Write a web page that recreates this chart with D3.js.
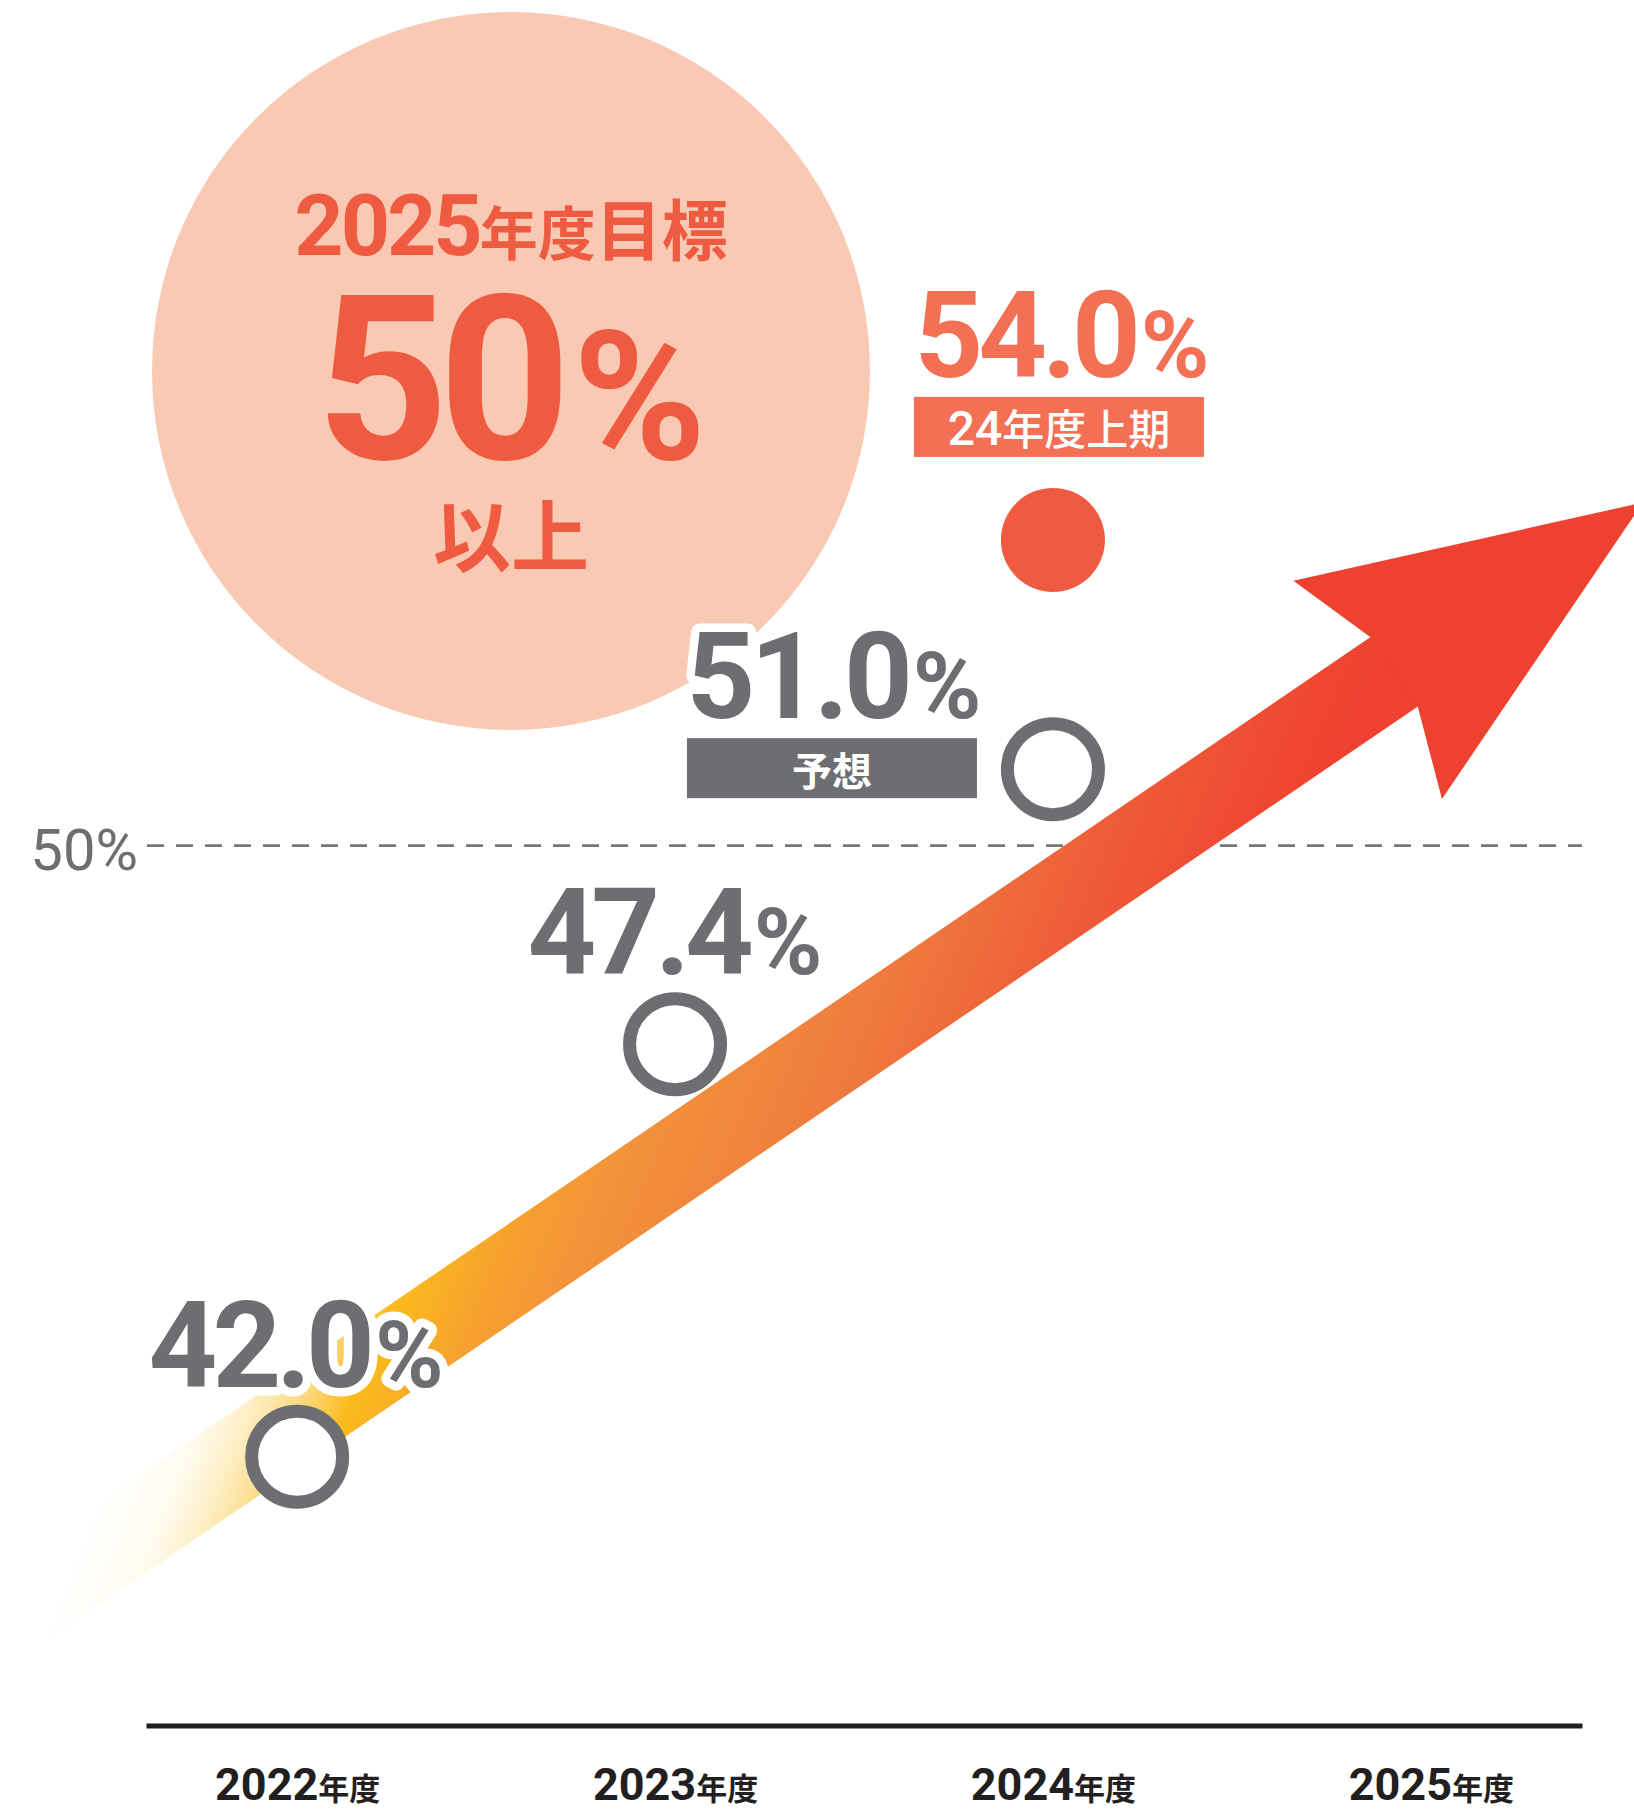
<!DOCTYPE html>
<html>
<head>
<meta charset="utf-8">
<script src="https://cdn.jsdelivr.net/npm/d3@7"></script>
<style>
  html, body { margin: 0; padding: 0; background: #fff; }
  svg { display: block; }
</style>
</head>
<body>
<svg id="chart" width="1634" height="1809"></svg>
<script>
// ---- data ----
const years = ["2022", "2023", "2024", "2025"];
const yearSuffix = "年度";

const pointYears  = ["2022", "2023", "2024", "2024"];
const pointValues = [42.0, 47.4, 51.0, 54.0];
const pointKinds  = ["actual", "actual", "forecast", "interim"];
const pointTags   = ["", "", "予想", "24年度上期"];

const targetValue = 50;
const targetTitle = ["2025", "年度", "目標"];
const targetNote  = "以上";

// trend arrow runs through these two (year, value) anchors
const trendStart = ["2022", 42.5];
const trendEnd   = ["2025", 52.6];

// ---- styling / layout ----
const NUM = "Roboto, 'Noto Sans', sans-serif";
const JP  = "'Noto Sans CJK JP', 'Noto Sans CJK SC', sans-serif";
const CORAL = "#EF5B41", SALMON = "#F37055", DOT = "#F05A40";
const GRAY = "#6D6E71", INK = "#231F20", PEACH = "#F9C9B4", DASH = "#77787B";

const labelLayout = [
  { dx: -1,   dy: -70 },
  { dx: 0,    dy: -70 },
  { dx: -219, dy: -51,  box: { x0: -366, x1: -76, y0: -31, h: 60 } },
  { dx: 9,    dy: -163, box: { x0: -139, x1: 151, y0: -143, h: 60 } }
];

const plotLeft = 146, plotRight = 1582, axisY = 1725.5;

const x = d3.scalePoint().domain(years).range([plotLeft, plotRight]).padding(0.4);
const y = d3.scaleLinear().domain([40, 55]).range([1609.6, 463.5]);
const fmt = d3.format(".1f");

const svg = d3.select("#chart");
const defs = svg.append("defs");

// One <text> made of differently sized runs, placed by its measured width.
function richText(parent, parts, o) {
  const t = parent.append("text").attr("x", 0).attr("y", o.y).attr("fill", o.fill);
  if (o.halo) {
    t.attr("stroke", "#fff").attr("stroke-width", o.halo)
     .attr("stroke-linejoin", "round").attr("paint-order", "stroke");
  }
  parts.forEach(p => {
    const s = t.append("tspan")
      .attr("font-family", p.cjk ? JP : NUM)
      .attr("font-size", p.size)
      .attr("font-weight", p.weight ?? 700)
      .text(p.text);
    if (p.ls) s.attr("letter-spacing", p.ls);
    if (p.dx) s.attr("dx", p.dx);
  });
  const bb = t.node().getBBox();
  const left = o.anchor === "end" ? o.x - bb.width : o.anchor === "start" ? o.x : o.x - bb.width / 2;
  t.attr("x", left - bb.x);
  return t;
}

// ---- target callout ----
const callout = svg.append("g");
callout.append("circle").attr("cx", 511).attr("cy", 371).attr("r", 359).attr("fill", PEACH);
richText(callout, [
  { text: targetTitle[0], size: 86, ls: -3 },
  { text: targetTitle[1], size: 58, cjk: true },
  { text: targetTitle[2], size: 66, cjk: true }
], { x: 511, y: 255, fill: CORAL });
richText(callout, [
  { text: String(targetValue), size: 231, ls: -10 },
  { text: "%", size: 180, dx: 12 }
], { x: 511, y: 459, fill: CORAL });
richText(callout, [{ text: targetNote, size: 78, cjk: true }], { x: 511, y: 566, fill: CORAL });

// ---- reference line at target ----
const refY = y(targetValue);
svg.append("line")
  .attr("x1", plotLeft + 1).attr("x2", plotRight)
  .attr("y1", refY).attr("y2", refY)
  .attr("stroke", DASH).attr("stroke-width", 2.7)
  .attr("stroke-dasharray", "17 12");
richText(svg, [{ text: targetValue + "%", size: 58, weight: 400 }],
  { x: 138, y: refY + 24, anchor: "end", fill: GRAY });

// ---- x axis ----
const xAxis = svg.append("g")
  .attr("transform", `translate(0,${axisY})`)
  .call(d3.axisBottom(x).tickSize(0).tickSizeOuter(0).tickPadding(0));
xAxis.select(".domain").attr("stroke", INK).attr("stroke-width", 5);
xAxis.selectAll(".tick text")
  .attr("y", 1800 - axisY).attr("dy", null)
  .attr("fill", INK).attr("font-family", null).attr("font-size", null)
  .text(null)
  .each(function (d) {
    const t = d3.select(this);
    t.append("tspan").attr("font-family", NUM).attr("font-size", 45).attr("font-weight", 700).text(d);
    t.append("tspan").attr("font-family", JP).attr("font-size", 31).attr("font-weight", 700).text(yearSuffix);
  });

// ---- trend arrow ----
const a0 = [x(trendStart[0]), y(trendStart[1])];
const a1 = [x(trendEnd[0]), y(trendEnd[1])];
const len = Math.hypot(a1[0] - a0[0], a1[1] - a0[1]);
const u = [(a1[0] - a0[0]) / len, (a1[1] - a0[1]) / len];
const n = [u[1], -u[0]];
const P = (s, t) => [a0[0] + s * u[0] + t * n[0], a0[1] + s * u[1] + t * n[1]];

const grad = defs.append("linearGradient")
  .attr("id", "trendFill").attr("gradientUnits", "userSpaceOnUse")
  .attr("x1", 592.6).attr("y1", 241.9).attr("x2", 1416.8).attr("y2", 578.3);
[
  [0.02,  "#FCD66E", 0],
  [0.095, "#FCD66E", 0.12],
  [0.125, "#FBD263", 0.28],
  [0.17,  "#FBCB4E", 0.55],
  [0.205, "#FAC53A", 0.78],
  [0.24,  "#FBBB1C", 1],
  [0.333, "#F6A22D", 1],
  [0.408, "#F3943A", 1],
  [0.615, "#EF7B3E", 1],
  [0.80,  "#EE5A38", 1],
  [0.903, "#EF4C33", 1],
  [0.966, "#EF4431", 1],
  [1,     "#EF4130", 1]
].forEach(([o, c, a]) => grad.append("stop").attr("offset", o).attr("stop-color", c).attr("stop-opacity", a));

const half = 42, tailS = -394, shaftEnd = 1400;
const barbS = 1295, barbT = 132, notchS = 1327, tipS = 1628;
const arrow = svg.append("g");
arrow.append("path")
  .attr("d", d3.line()([P(tailS, half), P(shaftEnd, half), P(shaftEnd, -half), P(tailS, -half)]) + "Z")
  .attr("fill", "url(#trendFill)");
arrow.append("path")
  .attr("d", d3.line()([P(notchS, half), P(barbS, barbT), P(tipS, 0), P(barbS, -barbT), P(notchS, -half)]) + "Z")
  .attr("fill", "#EF4130");

// ---- points ----
const pts = pointValues.map((v, i) => ({
  year: pointYears[i], value: v, kind: pointKinds[i], tag: pointTags[i], layout: labelLayout[i]
}));

svg.append("g").selectAll("circle").data(pts).join("circle")
  .attr("cx", d => x(d.year))
  .attr("cy", d => y(d.value))
  .attr("r", d => d.kind === "interim" ? 52 : 45.5)
  .attr("fill", d => d.kind === "interim" ? DOT : "#fff")
  .attr("stroke", d => d.kind === "interim" ? "none" : GRAY)
  .attr("stroke-width", 13);

// ---- value labels and tags ----
pts.forEach(d => {
  const cx = x(d.year), cy = y(d.value), L = d.layout;
  const color = d.kind === "interim" ? SALMON : GRAY;
  const g = svg.append("g");
  richText(g, [
    { text: fmt(d.value), size: 120, ls: -5 },
    { text: "%", size: 93, dx: 5 }
  ], { x: cx + L.dx, y: cy + L.dy, fill: color, halo: d.kind === "interim" ? null : 17 });

  if (d.tag) {
    const b = L.box;
    g.append("rect")
      .attr("x", cx + b.x0).attr("y", cy + b.y0)
      .attr("width", b.x1 - b.x0).attr("height", b.h)
      .attr("fill", color);
    const m = d.tag.match(/^(\d*)(.*)$/);
    const parts = [];
    if (m[1]) parts.push({ text: m[1], size: 48, weight: 500 });
    parts.push({ text: m[2], size: m[1] ? 42 : 40, cjk: true, weight: m[1] ? 500 : 700 });
    richText(g, parts, { x: cx + (b.x0 + b.x1) / 2, y: cy + b.y0 + 48, fill: "#fff" });
  }
});
</script>
</body>
</html>
